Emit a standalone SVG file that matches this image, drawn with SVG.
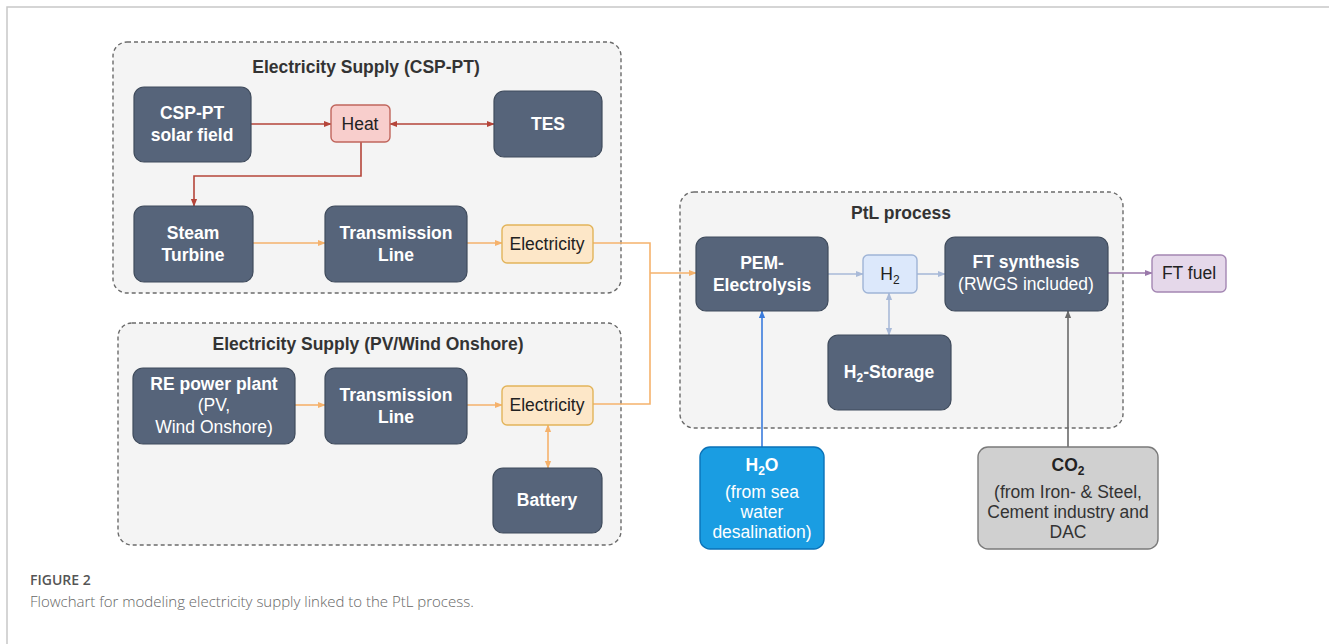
<svg xmlns="http://www.w3.org/2000/svg" width="1329" height="644" viewBox="0 0 1329 644">
<defs>
<style>
text{font-family:"Liberation Sans",Arial,sans-serif;font-size:17.5px;text-anchor:middle}
.grp{fill:#f4f4f4;stroke:#6b6b6b;stroke-width:1.4;stroke-dasharray:4 3}
.gt{font-weight:bold;fill:#333;font-size:17.5px}
.dk{fill:#56647a;stroke:#3f4b5c;stroke-width:1.2}
.wt{fill:#fff;font-weight:bold}
.wn{fill:#fff;font-weight:normal}
.dt{fill:#222;font-weight:normal}
.dg{fill:#333;font-weight:normal}
.heat{fill:#f8cecc;stroke:#c0655c;stroke-width:1.4}
.elec{fill:#fde7c8;stroke:#e2b45a;stroke-width:1.4}
.h2{fill:#dce8fb;stroke:#9fb4d6;stroke-width:1.4}
.fuel{fill:#e5d8ea;stroke:#a487b3;stroke-width:1.4}
.h2o{fill:#1a9de2;stroke:#0a72b8;stroke-width:1.4}
.co2{fill:#d0d0d0;stroke:#7a7a7a;stroke-width:1.4}
.c{fill:none;stroke-width:1.6}
.red{stroke:#b5453a}
.org{stroke:#f5b26c}
.lb{stroke:#a9bad8}
.pur{stroke:#9a78aa}
.blu{stroke:#3a7bdc}
.gry{stroke:#6a6a6a}
</style>
<marker id="mr" viewBox="0 0 10 10" refX="9" refY="5" markerWidth="8" markerHeight="8" markerUnits="userSpaceOnUse" orient="auto-start-reverse"><path d="M0,1 L10,5 L0,9 Z" fill="#b5453a"/></marker>
<marker id="mo" viewBox="0 0 10 10" refX="9" refY="5" markerWidth="8" markerHeight="8" markerUnits="userSpaceOnUse" orient="auto-start-reverse"><path d="M0,1 L10,5 L0,9 Z" fill="#f5b26c"/></marker>
<marker id="ml" viewBox="0 0 10 10" refX="9" refY="5" markerWidth="8" markerHeight="8" markerUnits="userSpaceOnUse" orient="auto-start-reverse"><path d="M0,1 L10,5 L0,9 Z" fill="#a9bad8"/></marker>
<marker id="mp" viewBox="0 0 10 10" refX="9" refY="5" markerWidth="8" markerHeight="8" markerUnits="userSpaceOnUse" orient="auto-start-reverse"><path d="M0,1 L10,5 L0,9 Z" fill="#9a78aa"/></marker>
<marker id="mb" viewBox="0 0 10 10" refX="9" refY="5" markerWidth="8" markerHeight="8" markerUnits="userSpaceOnUse" orient="auto-start-reverse"><path d="M0,1 L10,5 L0,9 Z" fill="#3a7bdc"/></marker>
<marker id="mg" viewBox="0 0 10 10" refX="9" refY="5" markerWidth="8" markerHeight="8" markerUnits="userSpaceOnUse" orient="auto-start-reverse"><path d="M0,1 L10,5 L0,9 Z" fill="#6a6a6a"/></marker>
</defs>
<rect width="1329" height="644" fill="#fff"/>
<path d="M7,644 V7 H1329" fill="none" stroke="#c8c8c8" stroke-width="1.5"/>

<g id="group-csp">
<rect class="grp" x="113" y="42" width="508" height="251" rx="14"/>
<text class="gt" x="366" y="73">Electricity Supply (CSP-PT)</text>
</g>
<g id="group-pv">
<rect class="grp" x="118" y="323" width="503" height="222" rx="14"/>
<text class="gt" x="368" y="350">Electricity Supply (PV/Wind Onshore)</text>
</g>
<g id="group-ptl">
<rect class="grp" x="680" y="192" width="443" height="236" rx="14"/>
<text class="gt" x="901" y="219">PtL process</text>
</g>

<g id="connectors">
<path class="c red" d="M251,124 H331" marker-end="url(#mr)"/>
<path class="c red" d="M390,124 H494" marker-start="url(#mr)" marker-end="url(#mr)"/>
<path class="c red" d="M361,142 V176 H194 V206" marker-end="url(#mr)"/>
<path class="c org" d="M253,243 H325" marker-end="url(#mo)"/>
<path class="c org" d="M467,243 H502" marker-end="url(#mo)"/>
<path class="c org" d="M295,405 H325" marker-end="url(#mo)"/>
<path class="c org" d="M467,405 H502" marker-end="url(#mo)"/>
<path class="c org" d="M548,425 V468" marker-start="url(#mo)" marker-end="url(#mo)"/>
<path class="c org" d="M593,243 H650 V404 H593"/>
<path class="c org" d="M650,273 H696" marker-end="url(#mo)"/>
<path class="c lb" d="M828,274 H863" marker-end="url(#ml)"/>
<path class="c lb" d="M917,274 H945" marker-end="url(#ml)"/>
<path class="c lb" d="M889,293 V335" marker-start="url(#ml)" marker-end="url(#ml)"/>
<path class="c pur" d="M1108,273 H1152" marker-end="url(#mp)"/>
<path class="c blu" d="M762,447 V311" marker-end="url(#mb)"/>
<path class="c gry" d="M1068,447 V311" marker-end="url(#mg)"/>
</g>

<g id="csp-solar-field">
<rect class="dk" x="134" y="87" width="117" height="75" rx="10"/>
<text class="wt" x="192" y="119">CSP-PT</text>
<text class="wt" x="192" y="141">solar field</text>
</g>
<g id="heat">
<rect class="heat" x="331" y="105" width="59" height="37" rx="5"/>
<text class="dt" x="360" y="130">Heat</text>
</g>
<g id="tes">
<rect class="dk" x="494" y="91" width="108" height="66" rx="10"/>
<text class="wt" x="548" y="130">TES</text>
</g>
<g id="steam-turbine">
<rect class="dk" x="134" y="206" width="119" height="76" rx="10"/>
<text class="wt" x="193" y="239">Steam</text>
<text class="wt" x="193" y="261">Turbine</text>
</g>
<g id="transmission-line-1">
<rect class="dk" x="325" y="206" width="142" height="76" rx="10"/>
<text class="wt" x="396" y="239">Transmission</text>
<text class="wt" x="396" y="261">Line</text>
</g>
<g id="electricity-1">
<rect class="elec" x="502" y="225" width="91" height="38" rx="5"/>
<text class="dt" x="547" y="250">Electricity</text>
</g>

<g id="re-power-plant">
<rect class="dk" x="133" y="368" width="162" height="76" rx="10"/>
<text class="wt" x="214" y="390">RE power plant</text>
<text class="wn" x="214" y="411">(PV,</text>
<text class="wn" x="214" y="433">Wind Onshore)</text>
</g>
<g id="transmission-line-2">
<rect class="dk" x="325" y="368" width="142" height="76" rx="10"/>
<text class="wt" x="396" y="401">Transmission</text>
<text class="wt" x="396" y="423">Line</text>
</g>
<g id="electricity-2">
<rect class="elec" x="502" y="386" width="91" height="39" rx="5"/>
<text class="dt" x="547" y="411">Electricity</text>
</g>
<g id="battery">
<rect class="dk" x="493" y="468" width="109" height="65" rx="10"/>
<text class="wt" x="547" y="506">Battery</text>
</g>

<g id="pem-electrolysis">
<rect class="dk" x="696" y="237" width="132" height="74" rx="10"/>
<text class="wt" x="762" y="269">PEM-</text>
<text class="wt" x="762" y="291">Electrolysis</text>
</g>
<g id="h2">
<rect class="h2" x="863" y="255" width="54" height="38" rx="5"/>
<text class="dt" x="890" y="280">H<tspan font-size="12" dy="4">2</tspan></text>
</g>
<g id="ft-synthesis">
<rect class="dk" x="945" y="237" width="163" height="74" rx="10"/>
<text class="wt" x="1026" y="268">FT synthesis</text>
<text class="wn" x="1026" y="290">(RWGS included)</text>
</g>
<g id="ft-fuel">
<rect class="fuel" x="1152" y="255" width="74" height="37" rx="5"/>
<text class="dt" x="1189" y="279">FT fuel</text>
</g>
<g id="h2-storage">
<rect class="dk" x="828" y="335" width="123" height="75" rx="10"/>
<text class="wt" x="889" y="378">H<tspan font-size="12" dy="4">2</tspan><tspan dy="-4">-Storage</tspan></text>
</g>
<g id="h2o">
<rect class="h2o" x="700" y="447" width="124" height="102" rx="10"/>
<text class="wt" x="762" y="471">H<tspan font-size="12" dy="4">2</tspan><tspan dy="-4">O</tspan></text>
<text class="wn" x="762" y="498">(from sea</text>
<text class="wn" x="762" y="518">water</text>
<text class="wn" x="762" y="538">desalination)</text>
</g>
<g id="co2">
<rect class="co2" x="978" y="447" width="180" height="102" rx="10"/>
<text x="1068" y="471" style="fill:#222;font-weight:bold">CO<tspan font-size="12" dy="4">2</tspan></text>
<text class="dg" x="1068" y="498">(from Iron- &amp; Steel,</text>
<text class="dg" x="1068" y="518">Cement industry and</text>
<text class="dg" x="1068" y="538">DAC</text>
</g>

<g id="caption">
<text x="30" y="585" style="text-anchor:start;font-family:'Open Sans',sans-serif;font-size:14px;fill:#555;font-weight:600">FIGURE 2</text>
<text x="30" y="607" style="text-anchor:start;font-family:'Open Sans',sans-serif;font-size:15px;fill:#666;font-weight:300">Flowchart for modeling electricity supply linked to the PtL process.</text>
</g>
</svg>
